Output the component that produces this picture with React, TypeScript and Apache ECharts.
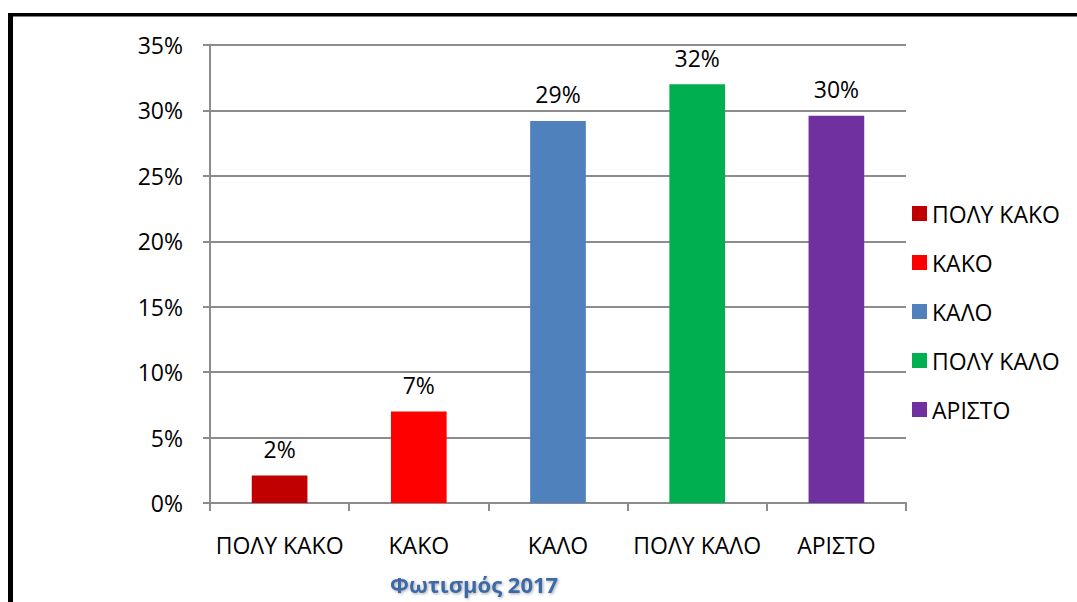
import React, { useEffect, useRef } from "react";
import * as echarts from "echarts";

const categories = ["ΠΟΛΥ ΚΑΚΟ", "ΚΑΚΟ", "ΚΑΛΟ", "ΠΟΛΥ ΚΑΛΟ", "ΑΡΙΣΤΟ"];
const values = [2.1, 7.0, 29.2, 32.0, 29.6];
const colors = ["#C00000", "#FF0000", "#4F81BD", "#00B050", "#7030A0"];
const yTicks = { min: 0, max: 35, interval: 5 };
const titleText = "Φωτισμός 2017";

const FONT = "'Open Sans', 'DejaVu Sans', sans-serif";
const FS = 23;

export default function App() {
  const ref = useRef<HTMLDivElement>(null);
  useEffect(() => {
    if (!ref.current) return;
    const chart = echarts.init(ref.current, null, { renderer: "svg" });
    const series = categories.map((name, i) => ({
      name,
      type: "bar",
      stack: "all",
      barWidth: "40%",
      itemStyle: { color: colors[i] },
      label: {
        show: true,
        position: "top",
        distance: 15,
        color: "#000",
        fontFamily: FONT,
        fontSize: FS,
        formatter: (p: any) => Math.round(p.value) + "%",
      },
      data: categories.map((_, j) => (j === i ? values[i] : "-")),
    }));
    chart.setOption({
      animation: false,
      backgroundColor: "#fff",
      textStyle: { fontFamily: FONT },
      grid: { left: 210, right: 171, top: 45, bottom: 99 },
      legend: {
        orient: "vertical",
        left: 912,
        top: 202,
        padding: 0,
        itemWidth: 15,
        itemHeight: 15,
        itemGap: 26,
        itemTextGap: 8,
        icon: "rect",
        data: categories,
        textStyle: { fontFamily: FONT, fontSize: FS, color: "#000", lineHeight: 22 },
      },
      xAxis: {
        type: "category",
        data: categories,
        axisLine: { lineStyle: { color: "#8c8c8c", width: 2 } },
        axisTick: { show: true, length: 8, lineStyle: { color: "#8c8c8c", width: 2 } },
        axisLabel: { color: "#000", fontFamily: FONT, fontSize: FS, margin: 30, interval: 0 },
      },
      yAxis: {
        type: "value",
        min: yTicks.min,
        max: yTicks.max,
        interval: yTicks.interval,
        axisLine: { show: true, lineStyle: { color: "#8c8c8c", width: 2 } },
        axisTick: { show: true, length: 7, lineStyle: { color: "#8c8c8c", width: 2 } },
        axisLabel: { color: "#000", fontFamily: FONT, fontSize: FS, margin: 27, formatter: "{value}%" },
        splitLine: { lineStyle: { color: "#8c8c8c", width: 2 } },
      },
      series,
      graphic: [
        { type: "line", shape: { x1: 10.5, y1: 13, x2: 10.5, y2: 610 }, style: { stroke: "#000", lineWidth: 5 } },
        { type: "line", shape: { x1: 8, y1: 14.75, x2: 1090, y2: 14.75 }, style: { stroke: "#000", lineWidth: 3.5 } },
        {
          type: "text",
          left: 390,
          top: 573,
          style: {
            text: titleText,
            fontFamily: FONT,
            fontWeight: "bold",
            fontSize: 22,
            fill: "#3E6AA6",
            textShadowColor: "rgba(0,0,0,0.35)",
            textShadowBlur: 3,
            textShadowOffsetX: 1,
            textShadowOffsetY: 1,
          },
        },
      ],
    });
    return () => chart.dispose();
  }, []);
  return (
    <div
      ref={ref}
      style={{ position: "fixed", left: 0, top: 0, width: 1077, height: 602, background: "#fff" }}
    />
  );
}
